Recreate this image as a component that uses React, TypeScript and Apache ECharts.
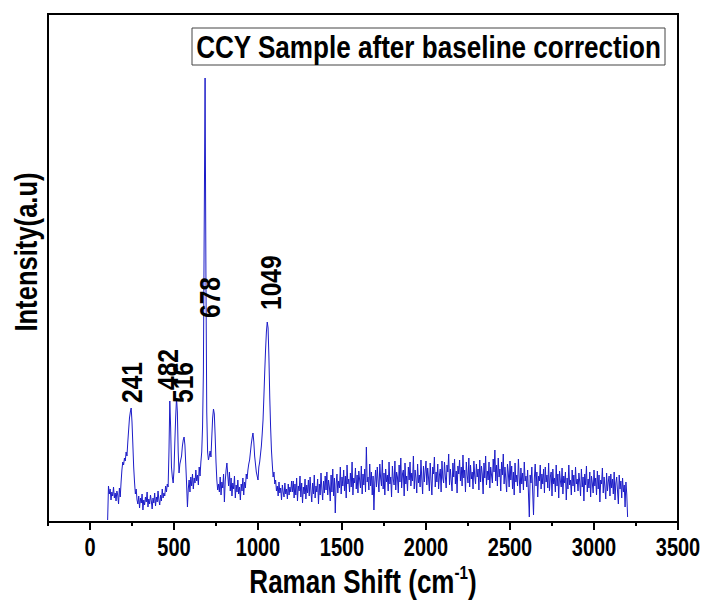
import React, { useEffect, useRef } from "react";
import * as echarts from "echarts";

const xTickValues = [0, 500, 1000, 1500, 2000, 2500, 3000, 3500];
const xMinorTickValues = [-250, 250, 750, 1250, 1750, 2250, 2750, 3250];
const xRange = [-250, 3500];
const yRange = [0, 508];

// 105 .. 1200 cm-1, every 5 cm-1
const lowShiftStart = 105;
const lowShiftStep = 5;
const lowIntensity = [
  2, 36, 28, 33, 22, 30, 26, 35, 24, 29, 21, 31, 27, 18, 34, 25, 40, 52, 60, 57,
  64, 61, 70, 66, 80, 92, 104, 110, 114, 100, 78, 55, 40, 28, 33, 22, 18, 26, 14, 24,
  19, 28, 12, 22, 17, 25, 20, 30, 15, 23, 18, 27, 21, 13, 24, 19, 29, 16, 25, 20,
  31, 22, 17, 27, 21, 33, 24, 29, 26, 36, 30, 38, 35, 70, 121, 95, 55, 45, 39, 52,
  80, 105, 124, 110, 70, 49, 58, 62, 66, 76, 82, 85, 77, 58, 38, 15, 33, 42, 30, 45,
  36, 48, 33, 44, 39, 52, 41, 47, 37, 55, 46, 60, 70, 95, 150, 300, 444, 250, 110, 70,
  62, 66, 71, 65, 85, 104, 113, 108, 86, 60, 42, 32, 38, 30, 45, 27, 40, 34, 48, 20,
  41, 52, 59, 47, 36, 50, 31, 44, 26, 39, 33, 46, 24, 37, 30, 42, 28, 35, 22, 38,
  31, 44, 27, 40, 34, 48, 43, 52, 58, 62, 70, 78, 84, 89, 80, 66, 58, 50, 46, 42,
  55, 60, 68, 76, 88, 102, 125, 150, 172, 190, 200, 194, 165, 125, 95, 72, 58, 45, 50, 38,
  42, 31, 36, 26, 40, 29, 34, 22, 37, 30, 25, 39, 28, 33, 23, 38, 27, 35, 30, 41,
];

// 1205 .. 3200 cm-1, every 5 cm-1
const highShiftStart = 1205;
const highShiftStep = 5;
const highIntensity = [
  30, 41, 24, 38, 27, 44, 21, 36, 31, 46, 25, 39, 19, 35, 28, 43, 23, 37, 29, 42,
  26, 45, 31, 20, 39, 28, 47, 24, 36, 30, 43, 18, 38, 27, 49, 33, 22, 41, 29, 46,
  32, 50, 27, 42, 35, 21, 47, 30, 53, 26, 44, 9, 38, 48, 29, 41, 34, 55, 28, 45,
  36, 52, 31, 46, 24, 57, 38, 43, 30, 49, 35, 60, 27, 44, 39, 54, 33, 47, 29, 51,
  42, 34, 56, 28, 48, 37, 53, 30, 75, 40, 45, 32, 58, 36, 50, 27, 46, 12, 39, 52,
  35, 55, 41, 30, 58, 44, 36, 62, 33, 49, 27, 53, 40, 47, 31, 60, 38, 45, 25, 56,
  43, 37, 61, 32, 50, 45, 29, 57, 40, 64, 34, 48, 52, 26, 59, 38, 46, 31, 55, 42,
  60, 36, 49, 41, 66, 33, 52, 44, 29, 58, 39, 47, 35, 62, 43, 28, 56, 40, 51, 61,
  37, 54, 44, 31, 59, 42, 27, 55, 48, 65, 35, 50, 40, 58, 33, 47, 53, 30, 61, 44,
  39, 60, 46, 34, 57, 50, 68, 37, 53, 42, 31, 59, 45, 63, 38, 51, 29, 56, 48, 62,
  41, 55, 36, 67, 44, 52, 30, 60, 47, 39, 64, 35, 57, 43, 50, 33, 61, 46, 38, 58,
  45, 53, 32, 62, 40, 56, 48, 28, 59, 44, 66, 37, 51, 42, 60, 34, 55, 47, 39, 63,
  50, 72, 41, 57, 36, 64, 45, 53, 31, 60, 47, 68, 38, 55, 43, 30, 58, 49, 35, 61,
  42, 56, 33, 50, 27, 59, 40, 47, 36, 63, 44, 29, 54, 38, 49, 32, 60, 41, 46, 35,
  52, 28, 5, 47, 39, 55, 30, 7, 44, 58, 36, 50, 25, 46, 41, 57, 33, 48, 38, 53,
  29, 55, 40, 47, 34, 59, 31, 45, 50, 26, 53, 38, 44, 30, 57, 36, 48, 24, 51, 41,
  35, 54, 28, 46, 39, 50, 22, 44, 33, 57, 37, 42, 27, 52, 36, 47, 30, 55, 38, 43,
  31, 49, 40, 26, 53, 35, 45, 21, 48, 37, 56, 30, 43, 34, 50, 25, 46, 39, 29, 52,
  36, 44, 27, 51, 33, 47, 20, 42, 38, 54, 29, 45, 35, 23, 49, 31, 40, 46, 26, 48,
  34, 43, 28, 50, 22, 39, 45, 31, 18, 47, 33, 41, 24, 44, 30, 37, 15, 40, 28, 5,
];

const peakLabels = ["241", "482", "516", "678", "1049"];
const peakLabelShift = [250, 464, 554, 714, 1077];
const peakLabelBase = [119, 132, 119, 204, 212];

const FONT = "'Liberation Sans', Arial, Helvetica, sans-serif";
const NARROW = 0.8;

export default function App() {
  const ref = useRef<HTMLDivElement>(null);
  useEffect(() => {
    document.body.style.margin = "0";
    if (!ref.current) return;
    const chart = echarts.init(ref.current, undefined, { renderer: "svg" });
    const spectrum: number[][] = [];
    lowIntensity.forEach((v, i) => spectrum.push([lowShiftStart + i * lowShiftStep, v]));
    highIntensity.forEach((v, i) => spectrum.push([highShiftStart + i * highShiftStep, v]));

    chart.setOption({
      animation: false,
      backgroundColor: "#ffffff",
      grid: { left: 48, right: 24, top: 14, bottom: 81, containLabel: false, outerBoundsMode: "none" },
      xAxis: [
        {
          type: "value",
          min: xRange[0],
          max: xRange[1],
          position: "bottom",
          axisLine: { show: true, onZero: false, lineStyle: { color: "#000", width: 2 } },
          axisTick: {
            show: true,
            customValues: xTickValues,
            length: 8,
            lineStyle: { color: "#000", width: 2 },
          },
          axisLabel: { show: false },
          splitLine: { show: false },
        },
        {
          type: "value",
          min: xRange[0],
          max: xRange[1],
          position: "bottom",
          axisLine: { show: false, onZero: false },
          axisTick: {
            show: true,
            customValues: xMinorTickValues,
            length: 4,
            lineStyle: { color: "#000", width: 2 },
          },
          axisLabel: { show: false },
          splitLine: { show: false },
        },
      ],
      yAxis: {
        type: "value",
        min: yRange[0],
        max: yRange[1],
        axisLine: { show: true, onZero: false, lineStyle: { color: "#000", width: 2 } },
        axisTick: { show: false },
        axisLabel: { show: false },
        splitLine: { show: false },
      },
      series: [
        {
          type: "line",
          xAxisIndex: 0,
          data: spectrum,
          showSymbol: false,
          symbol: "none",
          lineStyle: { color: "#1c1cc8", width: 1 },
          z: 2,
        },
        {
          type: "line",
          name: "frame",
          xAxisIndex: 0,
          data: [
            [xRange[0], yRange[1]],
            [xRange[1], yRange[1]],
            [xRange[1], yRange[0]],
          ],
          showSymbol: false,
          symbol: "none",
          clip: false,
          silent: true,
          lineStyle: { color: "#000", width: 2 },
          z: 4,
        },
      ],
    });

    const toPx = (x: number, y: number) =>
      chart.convertToPixel({ xAxisIndex: 0, yAxisIndex: 0 }, [x, y]) as number[];
    const [pl, pb] = toPx(xRange[0], yRange[0]);
    const [pr, pt] = toPx(xRange[1], yRange[1]);

    const tickTexts = xTickValues.map((v) => {
      const [px] = toPx(v, 0);
      return {
        type: "text",
        x: px,
        y: pb + 26,
        scaleX: NARROW,
        style: {
          text: String(v),
          fontSize: 25,
          fontWeight: "bold",
          fontFamily: FONT,
          fill: "#000",
          textAlign: "center",
          textVerticalAlign: "middle",
        },
      };
    });

    const peakTexts = peakLabels.map((t, i) => {
      const [px, py] = toPx(peakLabelShift[i], peakLabelBase[i]);
      return {
        type: "text",
        x: px,
        y: py,
        rotation: Math.PI / 2,
        scaleX: 0.82,
        style: {
          text: t,
          fontSize: 30,
          fontWeight: "bold",
          fontFamily: FONT,
          fill: "#000",
          textAlign: "left",
          textVerticalAlign: "middle",
        },
        z: 5,
      };
    });

    chart.setOption({
      graphic: [
        {
          type: "polyline",
          shape: { points: [[pl - 1, pt], [pr, pt], [pr, pb + 1]] },
          style: { stroke: "#000", lineWidth: 2, fill: null },
          z: 20,
        },
        {
          type: "rect",
          shape: { x: 192, y: 28, width: 473, height: 37 },
          style: { fill: "#fff", stroke: "#444", lineWidth: 1 },
          z: 10,
        },
        {
          type: "text",
          x: 428.5,
          y: 47,
          scaleX: 0.815,
          style: {
            text: "CCY Sample after baseline correction",
            fontSize: 32,
            fontWeight: "bold",
            fontFamily: FONT,
            fill: "#000",
            textAlign: "center",
            textVerticalAlign: "middle",
          },
          z: 11,
        },
        {
          type: "text",
          x: 26,
          y: 252,
          rotation: Math.PI / 2,
          scaleX: NARROW,
          style: {
            text: "Intensity(a.u)",
            fontSize: 32,
            fontWeight: "bold",
            fontFamily: FONT,
            fill: "#000",
            textAlign: "center",
            textVerticalAlign: "middle",
          },
          z: 11,
        },
        {
          type: "text",
          x: (pl + pr) / 2,
          y: 581,
          scaleX: NARROW,
          style: {
            text: "Raman Shift (cm{sup|-1})",
            fontSize: 32.5,
            fontWeight: "bold",
            fontFamily: FONT,
            fill: "#000",
            textAlign: "center",
            textVerticalAlign: "middle",
            lineHeight: 36,
            rich: {
              sup: {
                fontSize: 19,
                fontWeight: "bold",
                fontFamily: FONT,
                fill: "#000",
                verticalAlign: "top",
                lineHeight: 19,
              },
            },
          },
          z: 11,
        },
        ...tickTexts,
        ...peakTexts,
      ],
    });
    return () => chart.dispose();
  }, []);
  return <div ref={ref} style={{ width: 702, height: 603 }} />;
}
